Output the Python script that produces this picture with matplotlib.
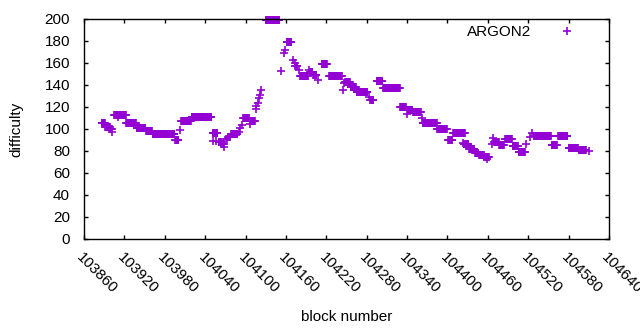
"""
Difficulty per block for ARGON2, gnuplot-style scatter of '+' markers.
"""

import numpy as np
import matplotlib
matplotlib.use('Agg')
import matplotlib.pyplot as plt
import matplotlib.transforms as mtransforms

plt.rcParams['font.family'] = ['Liberation Sans', 'DejaVu Sans']

# runs of consecutive blocks with the same difficulty: first block, last block, difficulty
run_first = [103886, 103891, 103899, 103902, 103905, 103910, 103923, 103938, 103952, 103962,
             103995, 104003, 104004, 104020, 104051, 104051, 104056, 104060, 104065, 104068,
             104071, 104074, 104079, 104090, 104092, 104094, 104096, 104107, 104107, 104115,
             104116, 104118, 104120, 104121, 104123, 104130, 104153, 104157, 104159, 104161,
             104171, 104173, 104174, 104179, 104181, 104194, 104196, 104200, 104208, 104213,
             104224, 104245, 104246, 104248, 104256, 104265, 104283, 104285, 104295, 104304,
             104330, 104340, 104341, 104349, 104362, 104363, 104385, 104401, 104408, 104423,
             104424, 104432, 104441, 104447, 104455, 104458, 104466, 104468, 104469, 104477,
             104486, 104497, 104506, 104517, 104522, 104525, 104528, 104555, 104564, 104580,
             104595, 104610]
run_last = [103891, 103898, 103901, 103902, 103922, 103910, 103937, 103951, 103961, 103994,
            104000, 104003, 104019, 104049, 104051, 104058, 104056, 104064, 104068, 104068,
            104072, 104077, 104088, 104090, 104092, 104094, 104105, 104107, 104114, 104115,
            104116, 104118, 104120, 104121, 104123, 104150, 104153, 104157, 104159, 104168,
            104171, 104173, 104177, 104179, 104193, 104194, 104199, 104205, 104208, 104221,
            104243, 104245, 104246, 104255, 104264, 104281, 104283, 104290, 104303, 104329,
            104338, 104340, 104348, 104360, 104362, 104384, 104399, 104407, 104426, 104423,
            104431, 104440, 104446, 104454, 104461, 104458, 104466, 104468, 104476, 104484,
            104496, 104505, 104515, 104517, 104522, 104525, 104554, 104562, 104578, 104594,
            104606, 104610]
run_diff = [105, 102, 100, 97.5, 113, 110.5, 105, 100.5, 98.5, 95.5,
            90, 99, 107, 110.5, 89, 96.5, 89, 88.5, 86, 83.5,
            91, 93, 95.5, 97, 101, 104, 110, 104.5, 107.5, 118.5,
            121, 124, 128.5, 131, 135.5, 199, 152.5, 169, 172, 179,
            163, 160, 157, 154, 148.5, 153.5, 152, 149, 144.5, 159,
            148, 135.5, 141.5, 143, 138, 133.5, 129.5, 126, 143.5, 137,
            120, 114, 117, 115, 110, 105.5, 100, 90, 96, 87,
            86.5, 82, 78.5, 76, 75, 73, 86, 92, 88.5, 85.5,
            90.5, 85, 79.5, 86, 93, 96, 93.5, 85.5, 93.5, 82.5,
            81, 80]

x_ticks = np.arange(103860, 104641, 60)
y_ticks = np.arange(0, 201, 20)

blocks = np.concatenate([np.arange(a, b + 1) for a, b in zip(run_first, run_last)])
diffs = np.concatenate([np.full(b - a + 1, d) for a, b, d in zip(run_first, run_last, run_diff)])

fig = plt.figure(figsize=(6.4, 3.3), dpi=100)
ax = fig.add_axes([84 / 640, 1 - 239 / 330, 525 / 640, 220 / 330])

ax.plot(blocks, diffs, linestyle='none', marker='+', markersize=5.4,
        markeredgewidth=1.2, color='#9400d3', label='ARGON2', clip_on=False)

ax.set_xlim(103860, 104640)
ax.set_ylim(0, 200)
ax.set_xticks(x_ticks)
ax.set_yticks(y_ticks)
ax.set_xticklabels([str(t) for t in x_ticks], rotation=-45, ha='left', va='top',
                   rotation_mode='anchor', fontsize=11)
# nudge the slanted labels a little to the right, like gnuplot does
shift = mtransforms.ScaledTranslation(3 / 100, 0, fig.dpi_scale_trans)
for lbl in ax.get_xticklabels():
    lbl.set_transform(lbl.get_transform() + shift)
ax.tick_params(axis='both', direction='in', length=3, width=1, top=True, right=True,
               labelsize=11)
ax.tick_params(axis='y', pad=10)
ax.tick_params(axis='x', pad=8)
for s in ax.spines.values():
    s.set_linewidth(1)

ax.set_xlabel('block number', fontsize=11, labelpad=10)
ax.set_ylabel('difficulty', fontsize=11, labelpad=15)

ax.legend(loc='upper right', bbox_to_anchor=(0.949, 0.972), frameon=False,
          markerfirst=False, handlelength=2, handletextpad=1.35, borderpad=0,
          borderaxespad=0, fontsize=11)

fig.savefig('out.png', dpi=100)
plt.close(fig)
